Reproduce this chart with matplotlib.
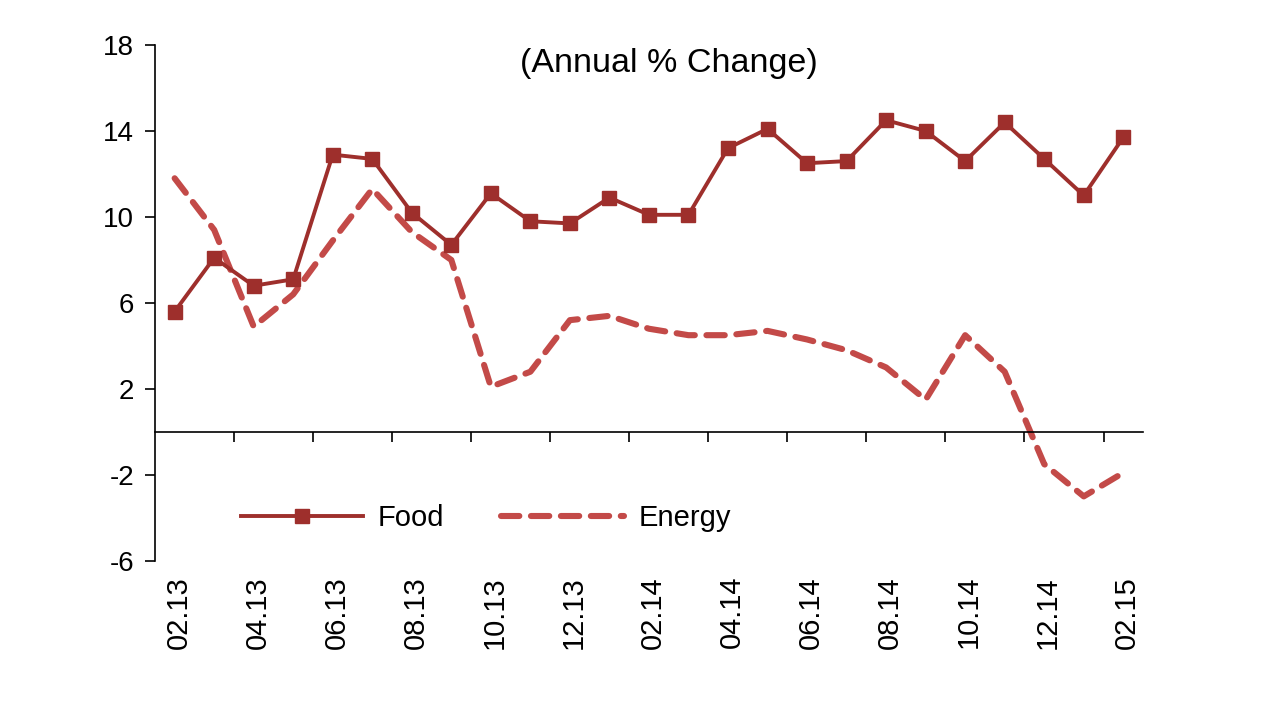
import numpy as np
import matplotlib.pyplot as plt

months = ['02.13', '03.13', '04.13', '05.13', '06.13', '07.13', '08.13', '09.13',
          '10.13', '11.13', '12.13', '01.14', '02.14', '03.14', '04.14', '05.14',
          '06.14', '07.14', '08.14', '09.14', '10.14', '11.14', '12.14', '01.15',
          '02.15']
food = [5.6, 8.1, 6.8, 7.1, 12.9, 12.7, 10.2, 8.7, 11.1, 9.8, 9.7, 10.9, 10.1,
        10.1, 13.2, 14.1, 12.5, 12.6, 14.5, 14.0, 12.6, 14.4, 12.7, 11.0, 13.7]
energy = [11.8, 9.4, 4.9, 6.4, 8.9, 11.3, 9.3, 8.0, 2.1, 2.8, 5.2, 5.4, 4.8,
          4.5, 4.5, 4.7, 4.3, 3.8, 3.0, 1.5, 4.5, 2.8, -1.5, -3.0, -1.9]
y_ticks = [-6, -2, 2, 6, 10, 14, 18]

plt.rcParams['font.family'] = ['Liberation Sans', 'DejaVu Sans']
plt.rcParams['axes.unicode_minus'] = False

fig = plt.figure(figsize=(12.8, 7.2), dpi=100)
ax = fig.add_axes([0.121, 0.221, 0.772, 0.7165])

x = np.arange(len(months))
ax.plot(x, food, color='#9E2F2C', lw=2.8, marker='s', markersize=10.5,
        label='Food', zorder=3)
ax.plot(x, energy, color='#C34A48', lw=4.4, dashes=(3.0, 1.9),
        dash_capstyle='round', label='Energy', zorder=2)

ax.set_xlim(-0.5, len(months) - 0.5)
ax.set_ylim(-6, 18)
ax.set_yticks(y_ticks)
ax.tick_params(axis='y', labelsize=20, length=7, width=1.2, direction='out',
               pad=8)

# x axis drawn at zero, labels below the plot
ax.spines['bottom'].set_position(('data', 0))
ax.spines['top'].set_visible(False)
ax.spines['right'].set_visible(False)
ax.spines['left'].set_linewidth(1.2)
ax.spines['bottom'].set_linewidth(1.2)

ax.set_xticks(np.arange(1.5, len(months) - 0.5, 2))
ax.set_xticklabels([])
ax.tick_params(axis='x', length=7, width=1.2, direction='out')
for i in range(0, len(months), 2):
    ax.text(x[i] + 0.1, -6.7, months[i], rotation=90, ha='center', va='top',
            fontsize=21)

ax.text(0.52, 0.995, '(Annual % Change)', transform=ax.transAxes,
        ha='center', va='top', fontsize=24.5)

ax.legend(loc='center left', bbox_to_anchor=(0.075, 0.083), ncol=2,
          frameon=False, fontsize=21, handlelength=4.2, handletextpad=0.5,
          columnspacing=1.95, borderaxespad=0)

fig.savefig('out.png', dpi=100)
